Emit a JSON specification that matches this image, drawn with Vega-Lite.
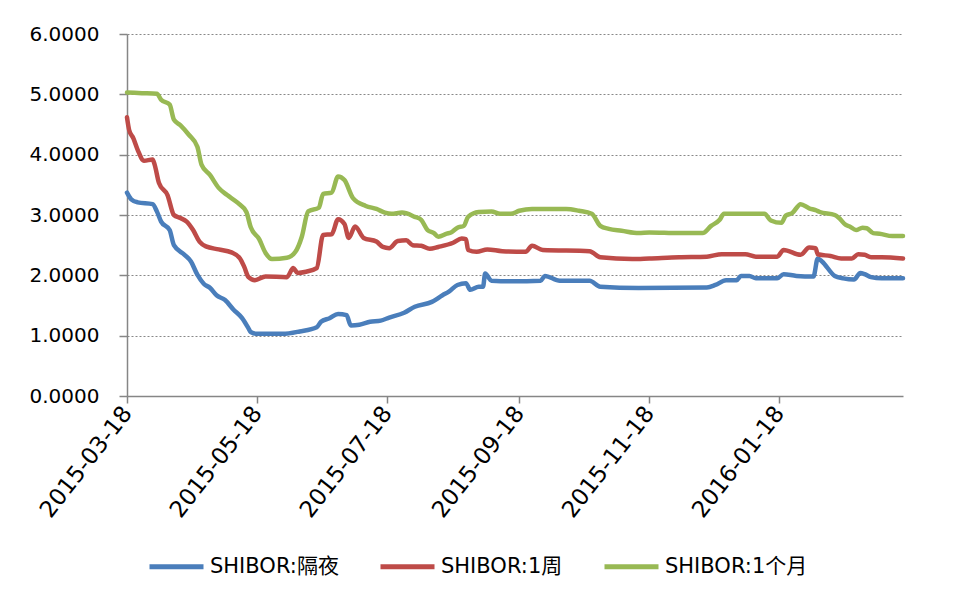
{
  "$schema": "https://vega.github.io/schema/vega-lite/v6.json",
  "width": 776,
  "height": 362,
  "autosize": {"type": "none"},
  "padding": {"left": 127, "top": 34, "right": 54, "bottom": 209},
  "background": "white",
  "config": {
    "font": "DejaVu Sans, Noto Sans CJK SC",
    "view": {"stroke": null}
  },
  "data": {
    "format": {"parse": {"d": "date:'%Y-%m-%d'"}},
    "values": [
      {"s": "SHIBOR:隔夜", "d": "2015-03-18", "v": 3.37},
      {"s": "SHIBOR:隔夜", "d": "2015-03-20", "v": 3.26},
      {"s": "SHIBOR:隔夜", "d": "2015-03-23", "v": 3.21},
      {"s": "SHIBOR:隔夜", "d": "2015-03-30", "v": 3.18},
      {"s": "SHIBOR:隔夜", "d": "2015-04-01", "v": 3.06},
      {"s": "SHIBOR:隔夜", "d": "2015-04-03", "v": 2.89},
      {"s": "SHIBOR:隔夜", "d": "2015-04-07", "v": 2.75},
      {"s": "SHIBOR:隔夜", "d": "2015-04-09", "v": 2.50},
      {"s": "SHIBOR:隔夜", "d": "2015-04-14", "v": 2.34},
      {"s": "SHIBOR:隔夜", "d": "2015-04-17", "v": 2.23},
      {"s": "SHIBOR:隔夜", "d": "2015-04-20", "v": 2.01},
      {"s": "SHIBOR:隔夜", "d": "2015-04-23", "v": 1.86},
      {"s": "SHIBOR:隔夜", "d": "2015-04-26", "v": 1.79},
      {"s": "SHIBOR:隔夜", "d": "2015-04-29", "v": 1.67},
      {"s": "SHIBOR:隔夜", "d": "2015-05-03", "v": 1.59},
      {"s": "SHIBOR:隔夜", "d": "2015-05-07", "v": 1.43},
      {"s": "SHIBOR:隔夜", "d": "2015-05-11", "v": 1.29},
      {"s": "SHIBOR:隔夜", "d": "2015-05-14", "v": 1.12},
      {"s": "SHIBOR:隔夜", "d": "2015-05-15", "v": 1.06},
      {"s": "SHIBOR:隔夜", "d": "2015-05-18", "v": 1.03},
      {"s": "SHIBOR:隔夜", "d": "2015-05-30", "v": 1.03},
      {"s": "SHIBOR:隔夜", "d": "2015-06-07", "v": 1.07},
      {"s": "SHIBOR:隔夜", "d": "2015-06-15", "v": 1.14},
      {"s": "SHIBOR:隔夜", "d": "2015-06-17", "v": 1.23},
      {"s": "SHIBOR:隔夜", "d": "2015-06-21", "v": 1.29},
      {"s": "SHIBOR:隔夜", "d": "2015-06-25", "v": 1.36},
      {"s": "SHIBOR:隔夜", "d": "2015-06-29", "v": 1.34},
      {"s": "SHIBOR:隔夜", "d": "2015-07-01", "v": 1.17},
      {"s": "SHIBOR:隔夜", "d": "2015-07-05", "v": 1.18},
      {"s": "SHIBOR:隔夜", "d": "2015-07-10", "v": 1.23},
      {"s": "SHIBOR:隔夜", "d": "2015-07-15", "v": 1.25},
      {"s": "SHIBOR:隔夜", "d": "2015-07-19", "v": 1.30},
      {"s": "SHIBOR:隔夜", "d": "2015-07-26", "v": 1.38},
      {"s": "SHIBOR:隔夜", "d": "2015-07-31", "v": 1.48},
      {"s": "SHIBOR:隔夜", "d": "2015-08-08", "v": 1.56},
      {"s": "SHIBOR:隔夜", "d": "2015-08-13", "v": 1.67},
      {"s": "SHIBOR:隔夜", "d": "2015-08-16", "v": 1.73},
      {"s": "SHIBOR:隔夜", "d": "2015-08-20", "v": 1.84},
      {"s": "SHIBOR:隔夜", "d": "2015-08-24", "v": 1.87},
      {"s": "SHIBOR:隔夜", "d": "2015-08-26", "v": 1.76},
      {"s": "SHIBOR:隔夜", "d": "2015-08-30", "v": 1.81},
      {"s": "SHIBOR:隔夜", "d": "2015-09-01", "v": 1.81},
      {"s": "SHIBOR:隔夜", "d": "2015-09-02", "v": 2.03},
      {"s": "SHIBOR:隔夜", "d": "2015-09-05", "v": 1.91},
      {"s": "SHIBOR:隔夜", "d": "2015-09-15", "v": 1.90},
      {"s": "SHIBOR:隔夜", "d": "2015-09-28", "v": 1.91},
      {"s": "SHIBOR:隔夜", "d": "2015-09-30", "v": 1.99},
      {"s": "SHIBOR:隔夜", "d": "2015-10-07", "v": 1.91},
      {"s": "SHIBOR:隔夜", "d": "2015-10-21", "v": 1.91},
      {"s": "SHIBOR:隔夜", "d": "2015-10-26", "v": 1.81},
      {"s": "SHIBOR:隔夜", "d": "2015-11-13", "v": 1.79},
      {"s": "SHIBOR:隔夜", "d": "2015-12-15", "v": 1.80},
      {"s": "SHIBOR:隔夜", "d": "2015-12-19", "v": 1.84},
      {"s": "SHIBOR:隔夜", "d": "2015-12-24", "v": 1.92},
      {"s": "SHIBOR:隔夜", "d": "2015-12-29", "v": 1.92},
      {"s": "SHIBOR:隔夜", "d": "2015-12-31", "v": 1.99},
      {"s": "SHIBOR:隔夜", "d": "2016-01-04", "v": 1.99},
      {"s": "SHIBOR:隔夜", "d": "2016-01-07", "v": 1.95},
      {"s": "SHIBOR:隔夜", "d": "2016-01-17", "v": 1.95},
      {"s": "SHIBOR:隔夜", "d": "2016-01-20", "v": 2.02},
      {"s": "SHIBOR:隔夜", "d": "2016-01-26", "v": 1.99},
      {"s": "SHIBOR:隔夜", "d": "2016-02-03", "v": 1.98},
      {"s": "SHIBOR:隔夜", "d": "2016-02-05", "v": 2.28},
      {"s": "SHIBOR:隔夜", "d": "2016-02-07", "v": 2.23},
      {"s": "SHIBOR:隔夜", "d": "2016-02-13", "v": 1.99},
      {"s": "SHIBOR:隔夜", "d": "2016-02-17", "v": 1.95},
      {"s": "SHIBOR:隔夜", "d": "2016-02-22", "v": 1.93},
      {"s": "SHIBOR:隔夜", "d": "2016-02-25", "v": 2.04},
      {"s": "SHIBOR:隔夜", "d": "2016-02-27", "v": 2.02},
      {"s": "SHIBOR:隔夜", "d": "2016-03-01", "v": 1.97},
      {"s": "SHIBOR:隔夜", "d": "2016-03-06", "v": 1.95},
      {"s": "SHIBOR:隔夜", "d": "2016-03-16", "v": 1.95},

      {"s": "SHIBOR:1周", "d": "2015-03-18", "v": 4.62},
      {"s": "SHIBOR:1周", "d": "2015-03-19", "v": 4.41},
      {"s": "SHIBOR:1周", "d": "2015-03-21", "v": 4.27},
      {"s": "SHIBOR:1周", "d": "2015-03-23", "v": 4.08},
      {"s": "SHIBOR:1周", "d": "2015-03-26", "v": 3.90},
      {"s": "SHIBOR:1周", "d": "2015-03-30", "v": 3.92},
      {"s": "SHIBOR:1周", "d": "2015-03-31", "v": 3.83},
      {"s": "SHIBOR:1周", "d": "2015-04-02", "v": 3.53},
      {"s": "SHIBOR:1周", "d": "2015-04-06", "v": 3.33},
      {"s": "SHIBOR:1周", "d": "2015-04-09", "v": 3.00},
      {"s": "SHIBOR:1周", "d": "2015-04-12", "v": 2.95},
      {"s": "SHIBOR:1周", "d": "2015-04-15", "v": 2.89},
      {"s": "SHIBOR:1周", "d": "2015-04-18", "v": 2.75},
      {"s": "SHIBOR:1周", "d": "2015-04-21", "v": 2.56},
      {"s": "SHIBOR:1周", "d": "2015-04-24", "v": 2.48},
      {"s": "SHIBOR:1周", "d": "2015-04-30", "v": 2.43},
      {"s": "SHIBOR:1周", "d": "2015-05-06", "v": 2.38},
      {"s": "SHIBOR:1周", "d": "2015-05-10", "v": 2.28},
      {"s": "SHIBOR:1周", "d": "2015-05-12", "v": 2.14},
      {"s": "SHIBOR:1周", "d": "2015-05-14", "v": 1.97},
      {"s": "SHIBOR:1周", "d": "2015-05-17", "v": 1.92},
      {"s": "SHIBOR:1周", "d": "2015-05-22", "v": 1.98},
      {"s": "SHIBOR:1周", "d": "2015-06-01", "v": 1.97},
      {"s": "SHIBOR:1周", "d": "2015-06-04", "v": 2.12},
      {"s": "SHIBOR:1周", "d": "2015-06-06", "v": 2.04},
      {"s": "SHIBOR:1周", "d": "2015-06-10", "v": 2.06},
      {"s": "SHIBOR:1周", "d": "2015-06-15", "v": 2.12},
      {"s": "SHIBOR:1周", "d": "2015-06-18", "v": 2.67},
      {"s": "SHIBOR:1周", "d": "2015-06-22", "v": 2.68},
      {"s": "SHIBOR:1周", "d": "2015-06-25", "v": 2.93},
      {"s": "SHIBOR:1周", "d": "2015-06-28", "v": 2.85},
      {"s": "SHIBOR:1周", "d": "2015-06-30", "v": 2.62},
      {"s": "SHIBOR:1周", "d": "2015-07-03", "v": 2.81},
      {"s": "SHIBOR:1周", "d": "2015-07-07", "v": 2.62},
      {"s": "SHIBOR:1周", "d": "2015-07-13", "v": 2.56},
      {"s": "SHIBOR:1周", "d": "2015-07-16", "v": 2.47},
      {"s": "SHIBOR:1周", "d": "2015-07-19", "v": 2.45},
      {"s": "SHIBOR:1周", "d": "2015-07-23", "v": 2.57},
      {"s": "SHIBOR:1周", "d": "2015-07-27", "v": 2.58},
      {"s": "SHIBOR:1周", "d": "2015-07-30", "v": 2.50},
      {"s": "SHIBOR:1周", "d": "2015-08-03", "v": 2.49},
      {"s": "SHIBOR:1周", "d": "2015-08-07", "v": 2.44},
      {"s": "SHIBOR:1周", "d": "2015-08-11", "v": 2.47},
      {"s": "SHIBOR:1周", "d": "2015-08-18", "v": 2.54},
      {"s": "SHIBOR:1周", "d": "2015-08-22", "v": 2.61},
      {"s": "SHIBOR:1周", "d": "2015-08-24", "v": 2.60},
      {"s": "SHIBOR:1周", "d": "2015-08-25", "v": 2.42},
      {"s": "SHIBOR:1周", "d": "2015-08-29", "v": 2.39},
      {"s": "SHIBOR:1周", "d": "2015-09-03", "v": 2.43},
      {"s": "SHIBOR:1周", "d": "2015-09-10", "v": 2.40},
      {"s": "SHIBOR:1周", "d": "2015-09-21", "v": 2.39},
      {"s": "SHIBOR:1周", "d": "2015-09-24", "v": 2.49},
      {"s": "SHIBOR:1周", "d": "2015-09-29", "v": 2.42},
      {"s": "SHIBOR:1周", "d": "2015-10-21", "v": 2.40},
      {"s": "SHIBOR:1周", "d": "2015-10-26", "v": 2.30},
      {"s": "SHIBOR:1周", "d": "2015-11-10", "v": 2.27},
      {"s": "SHIBOR:1周", "d": "2015-11-18", "v": 2.28},
      {"s": "SHIBOR:1周", "d": "2015-12-02", "v": 2.30},
      {"s": "SHIBOR:1周", "d": "2015-12-15", "v": 2.31},
      {"s": "SHIBOR:1周", "d": "2015-12-22", "v": 2.35},
      {"s": "SHIBOR:1周", "d": "2016-01-02", "v": 2.35},
      {"s": "SHIBOR:1周", "d": "2016-01-07", "v": 2.31},
      {"s": "SHIBOR:1周", "d": "2016-01-17", "v": 2.31},
      {"s": "SHIBOR:1周", "d": "2016-01-20", "v": 2.42},
      {"s": "SHIBOR:1周", "d": "2016-01-28", "v": 2.34},
      {"s": "SHIBOR:1周", "d": "2016-02-01", "v": 2.46},
      {"s": "SHIBOR:1周", "d": "2016-02-04", "v": 2.45},
      {"s": "SHIBOR:1周", "d": "2016-02-05", "v": 2.35},
      {"s": "SHIBOR:1周", "d": "2016-02-11", "v": 2.32},
      {"s": "SHIBOR:1周", "d": "2016-02-16", "v": 2.28},
      {"s": "SHIBOR:1周", "d": "2016-02-21", "v": 2.28},
      {"s": "SHIBOR:1周", "d": "2016-02-24", "v": 2.35},
      {"s": "SHIBOR:1周", "d": "2016-02-27", "v": 2.34},
      {"s": "SHIBOR:1周", "d": "2016-03-01", "v": 2.30},
      {"s": "SHIBOR:1周", "d": "2016-03-06", "v": 2.30},
      {"s": "SHIBOR:1周", "d": "2016-03-16", "v": 2.28},

      {"s": "SHIBOR:1个月", "d": "2015-03-18", "v": 5.03},
      {"s": "SHIBOR:1个月", "d": "2015-03-25", "v": 5.02},
      {"s": "SHIBOR:1个月", "d": "2015-04-01", "v": 5.01},
      {"s": "SHIBOR:1个月", "d": "2015-04-03", "v": 4.91},
      {"s": "SHIBOR:1个月", "d": "2015-04-07", "v": 4.83},
      {"s": "SHIBOR:1个月", "d": "2015-04-09", "v": 4.58},
      {"s": "SHIBOR:1个月", "d": "2015-04-12", "v": 4.49},
      {"s": "SHIBOR:1个月", "d": "2015-04-16", "v": 4.33},
      {"s": "SHIBOR:1个月", "d": "2015-04-20", "v": 4.13},
      {"s": "SHIBOR:1个月", "d": "2015-04-22", "v": 3.83},
      {"s": "SHIBOR:1个月", "d": "2015-04-26", "v": 3.66},
      {"s": "SHIBOR:1个月", "d": "2015-04-30", "v": 3.45},
      {"s": "SHIBOR:1个月", "d": "2015-05-04", "v": 3.33},
      {"s": "SHIBOR:1个月", "d": "2015-05-09", "v": 3.20},
      {"s": "SHIBOR:1个月", "d": "2015-05-13", "v": 3.05},
      {"s": "SHIBOR:1个月", "d": "2015-05-15", "v": 2.80},
      {"s": "SHIBOR:1个月", "d": "2015-05-19", "v": 2.60},
      {"s": "SHIBOR:1个月", "d": "2015-05-22", "v": 2.37},
      {"s": "SHIBOR:1个月", "d": "2015-05-25", "v": 2.27},
      {"s": "SHIBOR:1个月", "d": "2015-06-01", "v": 2.29},
      {"s": "SHIBOR:1个月", "d": "2015-06-05", "v": 2.39},
      {"s": "SHIBOR:1个月", "d": "2015-06-08", "v": 2.64},
      {"s": "SHIBOR:1个月", "d": "2015-06-11", "v": 3.06},
      {"s": "SHIBOR:1个月", "d": "2015-06-16", "v": 3.12},
      {"s": "SHIBOR:1个月", "d": "2015-06-18", "v": 3.35},
      {"s": "SHIBOR:1个月", "d": "2015-06-22", "v": 3.37},
      {"s": "SHIBOR:1个月", "d": "2015-06-25", "v": 3.64},
      {"s": "SHIBOR:1个月", "d": "2015-06-28", "v": 3.58},
      {"s": "SHIBOR:1个月", "d": "2015-07-02", "v": 3.28},
      {"s": "SHIBOR:1个月", "d": "2015-07-08", "v": 3.15},
      {"s": "SHIBOR:1个月", "d": "2015-07-13", "v": 3.10},
      {"s": "SHIBOR:1个月", "d": "2015-07-17", "v": 3.04},
      {"s": "SHIBOR:1个月", "d": "2015-07-20", "v": 3.02},
      {"s": "SHIBOR:1个月", "d": "2015-07-25", "v": 3.04},
      {"s": "SHIBOR:1个月", "d": "2015-07-31", "v": 2.97},
      {"s": "SHIBOR:1个月", "d": "2015-08-03", "v": 2.92},
      {"s": "SHIBOR:1个月", "d": "2015-08-06", "v": 2.75},
      {"s": "SHIBOR:1个月", "d": "2015-08-09", "v": 2.70},
      {"s": "SHIBOR:1个月", "d": "2015-08-11", "v": 2.64},
      {"s": "SHIBOR:1个月", "d": "2015-08-15", "v": 2.69},
      {"s": "SHIBOR:1个月", "d": "2015-08-17", "v": 2.71},
      {"s": "SHIBOR:1个月", "d": "2015-08-20", "v": 2.79},
      {"s": "SHIBOR:1个月", "d": "2015-08-23", "v": 2.82},
      {"s": "SHIBOR:1个月", "d": "2015-08-25", "v": 2.97},
      {"s": "SHIBOR:1个月", "d": "2015-08-30", "v": 3.05},
      {"s": "SHIBOR:1个月", "d": "2015-09-05", "v": 3.06},
      {"s": "SHIBOR:1个月", "d": "2015-09-09", "v": 3.02},
      {"s": "SHIBOR:1个月", "d": "2015-09-14", "v": 3.02},
      {"s": "SHIBOR:1个月", "d": "2015-09-18", "v": 3.07},
      {"s": "SHIBOR:1个月", "d": "2015-09-24", "v": 3.10},
      {"s": "SHIBOR:1个月", "d": "2015-10-10", "v": 3.10},
      {"s": "SHIBOR:1个月", "d": "2015-10-16", "v": 3.07},
      {"s": "SHIBOR:1个月", "d": "2015-10-22", "v": 3.02},
      {"s": "SHIBOR:1个月", "d": "2015-10-26", "v": 2.82},
      {"s": "SHIBOR:1个月", "d": "2015-10-30", "v": 2.77},
      {"s": "SHIBOR:1个月", "d": "2015-11-05", "v": 2.74},
      {"s": "SHIBOR:1个月", "d": "2015-11-13", "v": 2.70},
      {"s": "SHIBOR:1个月", "d": "2015-11-18", "v": 2.71},
      {"s": "SHIBOR:1个月", "d": "2015-12-02", "v": 2.70},
      {"s": "SHIBOR:1个月", "d": "2015-12-13", "v": 2.70},
      {"s": "SHIBOR:1个月", "d": "2015-12-17", "v": 2.82},
      {"s": "SHIBOR:1个月", "d": "2015-12-21", "v": 2.92},
      {"s": "SHIBOR:1个月", "d": "2015-12-23", "v": 3.02},
      {"s": "SHIBOR:1个月", "d": "2016-01-11", "v": 3.02},
      {"s": "SHIBOR:1个月", "d": "2016-01-14", "v": 2.91},
      {"s": "SHIBOR:1个月", "d": "2016-01-19", "v": 2.87},
      {"s": "SHIBOR:1个月", "d": "2016-01-21", "v": 2.99},
      {"s": "SHIBOR:1个月", "d": "2016-01-24", "v": 3.03},
      {"s": "SHIBOR:1个月", "d": "2016-01-28", "v": 3.18},
      {"s": "SHIBOR:1个月", "d": "2016-02-01", "v": 3.11},
      {"s": "SHIBOR:1个月", "d": "2016-02-04", "v": 3.08},
      {"s": "SHIBOR:1个月", "d": "2016-02-06", "v": 3.05},
      {"s": "SHIBOR:1个月", "d": "2016-02-13", "v": 3.00},
      {"s": "SHIBOR:1个月", "d": "2016-02-15", "v": 2.95},
      {"s": "SHIBOR:1个月", "d": "2016-02-18", "v": 2.84},
      {"s": "SHIBOR:1个月", "d": "2016-02-20", "v": 2.81},
      {"s": "SHIBOR:1个月", "d": "2016-02-23", "v": 2.75},
      {"s": "SHIBOR:1个月", "d": "2016-02-26", "v": 2.79},
      {"s": "SHIBOR:1个月", "d": "2016-02-28", "v": 2.78},
      {"s": "SHIBOR:1个月", "d": "2016-03-02", "v": 2.70},
      {"s": "SHIBOR:1个月", "d": "2016-03-05", "v": 2.69},
      {"s": "SHIBOR:1个月", "d": "2016-03-11", "v": 2.65},
      {"s": "SHIBOR:1个月", "d": "2016-03-16", "v": 2.65}
    ]
  },
  "mark": {"type": "line", "strokeWidth": 4.5, "strokeJoin": "round", "strokeCap": "round", "interpolate": "monotone"},
  "encoding": {
    "x": {
      "field": "d",
      "type": "temporal",
      "title": null,
      "scale": {
        "domain": [
          {"year": 2015, "month": 3, "date": 18},
          {"year": 2016, "month": 3, "date": 16}
        ],
        "nice": false
      },
      "axis": {
        "values": [
          {"year": 2015, "month": 3, "date": 18},
          {"year": 2015, "month": 5, "date": 18},
          {"year": 2015, "month": 7, "date": 18},
          {"year": 2015, "month": 9, "date": 18},
          {"year": 2015, "month": 11, "date": 18},
          {"year": 2016, "month": 1, "date": 18}
        ],
        "format": "%Y-%m-%d",
        "labelAngle": -52,
        "labelAlign": "right",
        "labelBaseline": "middle",
        "labelFontSize": 23,
        "labelColor": "#000000",
        "labelPadding": 6,
        "labelFlush": false,
        "labelOverlap": false,
        "grid": false,
        "tickSize": 7,
        "tickColor": "#868686",
        "tickWidth": 1.5,
        "domainColor": "#868686",
        "domainWidth": 1.5
      }
    },
    "y": {
      "field": "v",
      "type": "quantitative",
      "title": null,
      "scale": {"domain": [0, 6], "nice": false, "zero": true},
      "axis": {
        "values": [0, 1, 2, 3, 4, 5, 6],
        "format": ".4f",
        "labelFontSize": 20,
        "labelColor": "#000000",
        "labelPadding": 20,
        "tickSize": 8,
        "tickColor": "#868686",
        "tickWidth": 1.5,
        "domainColor": "#868686",
        "domainWidth": 1.5,
        "grid": true,
        "gridColor": "#888888",
        "gridDash": [2, 2],
        "gridWidth": 1
      }
    },
    "color": {
      "field": "s",
      "type": "nominal",
      "title": null,
      "scale": {
        "domain": ["SHIBOR:隔夜", "SHIBOR:1周", "SHIBOR:1个月"],
        "range": ["#4A7EBB", "#BE4B48", "#98B954"]
      },
      "legend": {
        "orient": "none",
        "direction": "horizontal",
        "legendX": 20,
        "legendY": 503,
        "symbolType": "stroke",
        "symbolSize": 2916,
        "symbolStrokeWidth": 5,
        "labelFontSize": 21,
        "labelColor": "#000000",
        "labelOffset": 4,
        "labelLimit": 300,
        "columnPadding": 31
      }
    }
  }
}
